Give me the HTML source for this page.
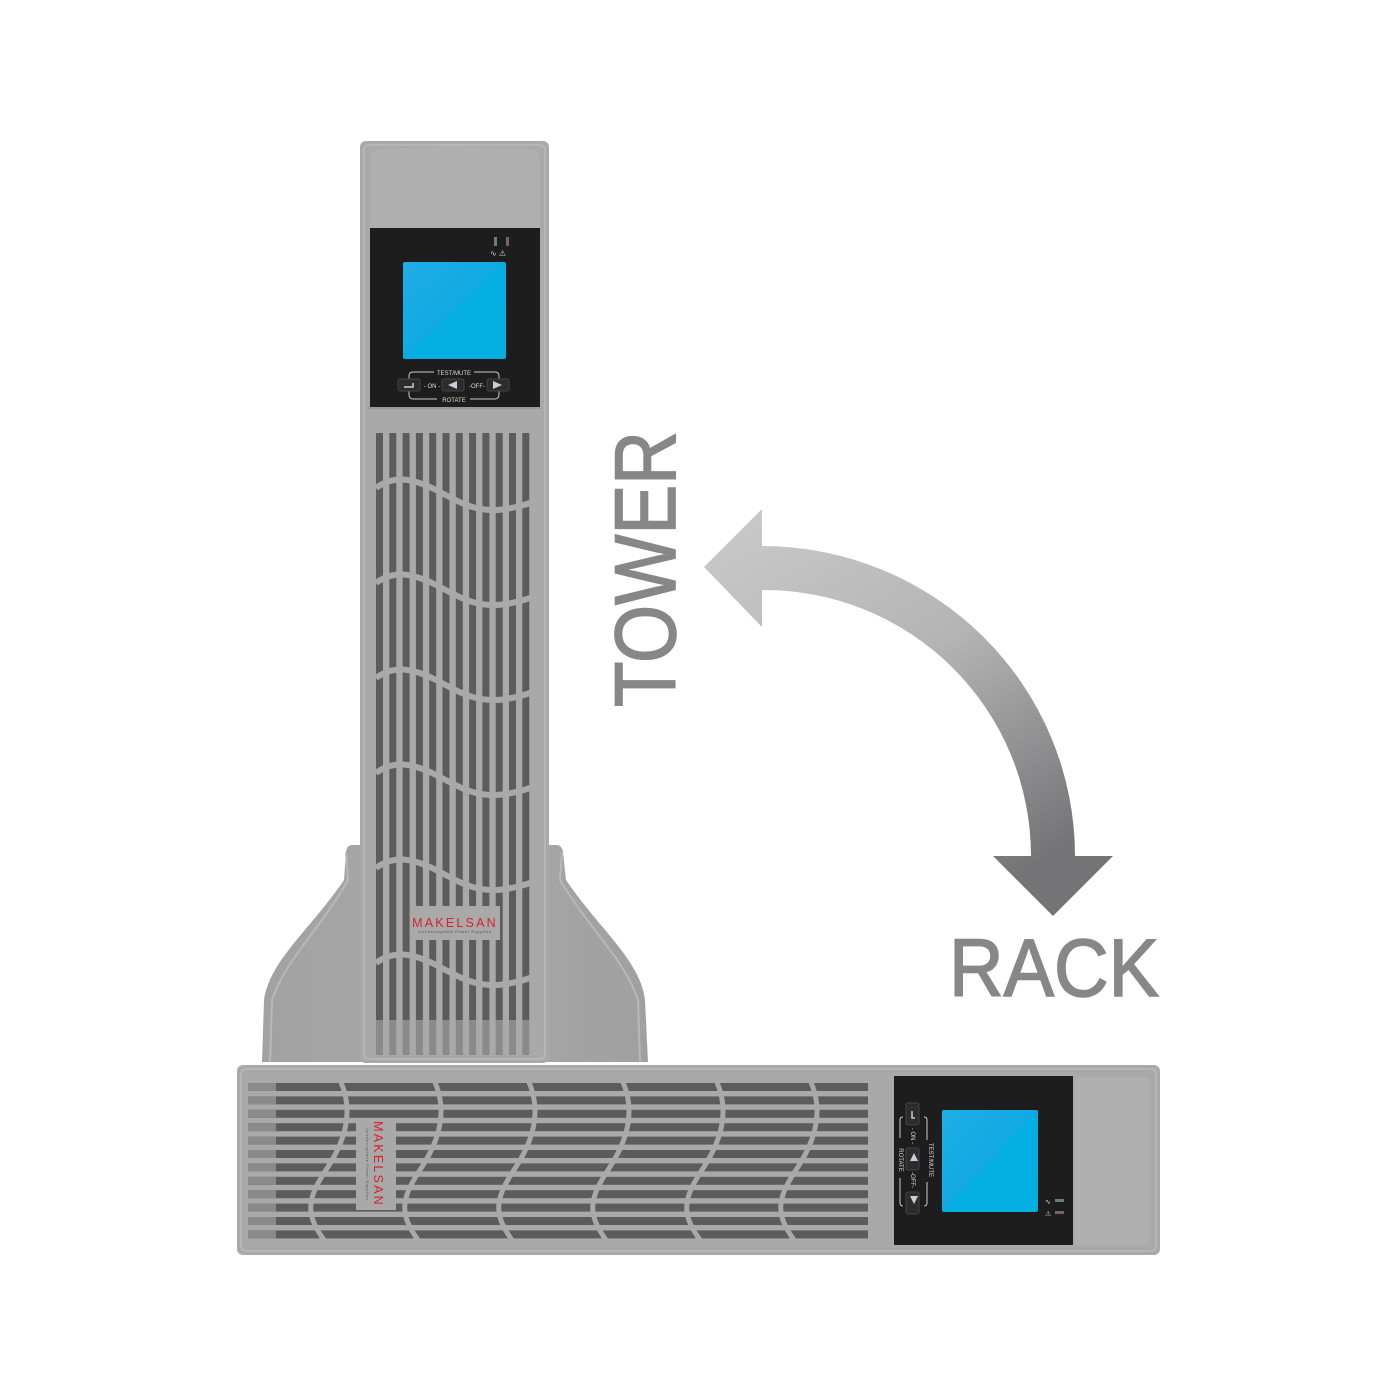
<!DOCTYPE html>
<html><head><meta charset="utf-8"><style>
html,body{margin:0;padding:0;background:#fff;}
svg{display:block;}
</style></head><body>
<svg id="s" width="1400" height="1400" viewBox="0 0 1400 1400" xmlns="http://www.w3.org/2000/svg" font-family="Liberation Sans, Arial, sans-serif">
<defs>
<linearGradient id="arr" x1="0" y1="0" x2="0.6" y2="1">
<stop offset="0" stop-color="#cbcbcb"/><stop offset="0.5" stop-color="#b4b4b5"/><stop offset="1" stop-color="#747476"/>
</linearGradient>
<linearGradient id="lcd" x1="0" y1="0" x2="1" y2="1">
<stop offset="0" stop-color="#1faee6"/><stop offset="0.5" stop-color="#12a9e2"/><stop offset="0.5" stop-color="#03aee3"/><stop offset="1" stop-color="#03aee0"/>
</linearGradient>
<linearGradient id="stand" x1="0" y1="0" x2="1" y2="0">
<stop offset="0" stop-color="#a2a2a2"/><stop offset="0.5" stop-color="#a8a8a8"/><stop offset="1" stop-color="#a0a0a0"/>
</linearGradient>
</defs>
<rect width="1400" height="1400" fill="#fff"/>

<!-- stand -->
<path d="M352 845 L556 845 Q562 845 563 852 L566 880 C600 930 640 960 645 1000 L648 1062 L262 1062 L264 1000 C270 960 310 930 344 880 L346 852 Q347 845 352 845 Z" fill="url(#stand)"/>
<path d="M346 852 L348 880 C320 930 285 960 272 1000 L270 1062" fill="none" stroke="#b8b8b8" stroke-width="2"/>
<path d="M562 852 L560 880 C590 930 625 960 638 1000 L640 1062" fill="none" stroke="#b8b8b8" stroke-width="2"/>

<!-- tower body -->
<rect x="360" y="141" width="189" height="922" rx="6" fill="#a9a9a9"/>
<rect x="364" y="145" width="181" height="914" rx="5" fill="none" stroke="#b6b6b6" stroke-width="2"/>
<path d="M370 160 Q370 150 380 149 Q455 144 530 149 Q540 150 540 160 L540 228 L370 228 Z" fill="#afafaf"/>
<!-- tower display panel -->
<rect x="370" y="228" width="170" height="179" fill="#1d1d1d"/>
<rect x="403" y="262" width="103" height="97" rx="2" fill="url(#lcd)"/>
<rect x="494" y="237" width="3" height="9" fill="#6d7d75"/>
<rect x="506" y="237" width="3" height="9" fill="#7a6264"/>
<text x="490" y="256" font-size="8" fill="#ccc">∿ ⚠</text>
<g fill="none" stroke="#ccc" stroke-width="1">
<path d="M409 380 L409 376 Q409 372 413 372 L434 372 M474 372 L495 372 Q499 372 499 376 L499 380"/>
<path d="M409 390 L409 394 Q409 399 413 399 L437 399 M470 399 L495 399 Q499 399 499 394 L499 390"/>
</g>
<text x="454" y="375" font-size="6" fill="#ddd" text-anchor="middle">TEST/MUTE</text>
<text x="454" y="402" font-size="6" fill="#ddd" text-anchor="middle">ROTATE</text>
<text x="432" y="388" font-size="6" fill="#ddd" text-anchor="middle">- ON -</text>
<text x="477" y="388" font-size="6" fill="#ddd" text-anchor="middle">-OFF-</text>
<rect x="398" y="379" width="22" height="12" rx="2" fill="#2c2c2c" stroke="#444"/>
<rect x="442" y="379" width="22" height="12" rx="2" fill="#2c2c2c" stroke="#444"/>
<rect x="487" y="379" width="22" height="12" rx="2" fill="#2c2c2c" stroke="#444"/>
<path d="M404 387 L413 387 L413 383" stroke="#ccc" fill="none" stroke-width="1.5"/>
<path d="M448 385 L457 381 L457 389 Z" fill="#ccd"/>
<path d="M502 385 L493 381 L493 389 Z" fill="#ccd"/>
<rect x="368" y="407" width="174" height="2" fill="#9a9a9a"/>

<!-- tower grille -->
<g id="tg"></g>

<!-- tower logo -->
<rect x="410" y="906" width="90" height="34" fill="#a9a9a9"/>
<text x="455" y="927" font-size="12.5" fill="#d9202f" text-anchor="middle" letter-spacing="2.2">MAKELSAN</text>
<text x="455" y="933" font-size="4" fill="#555" text-anchor="middle" letter-spacing="0.6">Uninterruptible Power Supplies</text>

<!-- rack body -->
<rect x="237" y="1065" width="923" height="190" rx="6" fill="#a9a9a9"/>
<rect x="241" y="1069" width="915" height="182" rx="5" fill="none" stroke="#b6b6b6" stroke-width="2"/>
<path d="M1075 1077 L1142 1077 Q1151 1077 1151 1086 L1151 1236 Q1151 1245 1142 1245 L1075 1245 Z" fill="#afafaf"/>
<g id="rg"></g>
<!-- rack logo -->
<rect x="356" y="1118" width="40" height="92" fill="#a9a9a9"/>
<text transform="translate(374,1164) rotate(90)" font-size="12.5" fill="#d9202f" text-anchor="middle" letter-spacing="2.2">MAKELSAN</text>
<text transform="translate(366,1164) rotate(90)" font-size="4" fill="#555" text-anchor="middle" letter-spacing="0.6">Uninterruptible Power Supplies</text>
<!-- rack display -->
<rect x="894" y="1076" width="179" height="169" fill="#1d1d1d"/>
<rect x="942" y="1110" width="96" height="102" rx="2" fill="url(#lcd)"/>
<rect x="1055" y="1199" width="9" height="3" fill="#6d7d75"/>
<rect x="1055" y="1211" width="9" height="3" fill="#7a6264"/>
<text x="1045" y="1204" font-size="7" fill="#ccc">∿</text>
<text x="1045" y="1216" font-size="7" fill="#ccc">⚠</text>
<rect x="906" y="1103" width="13" height="22" rx="2" fill="#2c2c2c" stroke="#444"/>
<rect x="906" y="1148" width="13" height="22" rx="2" fill="#2c2c2c" stroke="#444"/>
<rect x="906" y="1192" width="13" height="22" rx="2" fill="#2c2c2c" stroke="#444"/>
<path d="M910 1161 L914 1153 L918 1161 Z" fill="#ccd"/>
<path d="M910 1196 L914 1204 L918 1196 Z" fill="#ccd"/>
<path d="M912 1111 L912 1118 L915 1118" stroke="#ccc" fill="none" stroke-width="1.5"/>
<g fill="none" stroke="#ccc" stroke-width="1">
<path d="M903 1117 Q900 1117 900 1120 L900 1138 M900 1178 L900 1203 Q900 1206 903 1206"/>
<path d="M924 1117 Q927 1117 927 1120 L927 1140 M927 1182 L927 1203 Q927 1206 924 1206"/>
</g>
<text transform="translate(929,1160) rotate(90)" font-size="6" fill="#ddd" text-anchor="middle">TEST/MUTE</text>
<text transform="translate(899,1160) rotate(90)" font-size="6" fill="#ddd" text-anchor="middle">ROTATE</text>
<text transform="translate(911,1136) rotate(90)" font-size="6" fill="#ddd" text-anchor="middle">- ON -</text>
<text transform="translate(911,1180) rotate(90)" font-size="6" fill="#ddd" text-anchor="middle">-OFF-</text>

<!-- arrow -->
<path d="M762 509 L704 567 L762 627 L762 590 A267 266 0 0 1 1031 856 L993 856 L1053 916 L1113 856 L1075 856 A313 310 0 0 0 762 546 Z" fill="url(#arr)"/>

<text transform="translate(675,707) rotate(-90)" font-size="86" fill="#878787" stroke="#878787" stroke-width="1.6" textLength="276" lengthAdjust="spacingAndGlyphs">TOWER</text>
<text x="949" y="996" font-size="82" fill="#878787" stroke="#878787" stroke-width="1.6" textLength="210" lengthAdjust="spacingAndGlyphs">RACK</text>
</svg>
<script>
(function(){
var NS="http://www.w3.org/2000/svg";
function el(p,t,a){var e=document.createElementNS(NS,t);for(var k in a)e.setAttribute(k,a[k]);p.appendChild(e);return e;}
var tg=document.getElementById("tg");
for(var i=0;i<12;i++){var x=376+i*13.3;
 el(tg,"rect",{x:x,y:433,width:7,height:587,fill:"#5c5c5c"});
 el(tg,"rect",{x:x,y:1020,width:7,height:35,fill:"#8a8a8a"});
}
for(var k=0;k<6;k++){var y=480+k*95;
 el(tg,"path",{d:"M376 "+(y+8)+" C392 "+(y-4)+" 410 "+(y-4)+" 440 "+(y+12)+" S488 "+(y+38)+" 533 "+(y+22),fill:"none",stroke:"#a9a9a9","stroke-width":6});
}
var rg=document.getElementById("rg");
for(var j=0;j<12;j++){var y2=1083+j*13.4;
 el(rg,"rect",{x:248,y:y2,width:620,height:8,fill:"#5c5c5c"});
 el(rg,"rect",{x:248,y:y2,width:28,height:8,fill:"#8a8a8a"});
}
for(var m=0;m<6;m++){var x0=340+m*94;
 el(rg,"path",{d:"M"+x0+" 1080 C"+(x0+14)+" 1110 "+(x0+6)+" 1140 "+(x0-14)+" 1170 S"+(x0-34)+" 1215 "+(x0-16)+" 1240",fill:"none",stroke:"#a9a9a9","stroke-width":5});
}
})();
</script>
</body></html>
